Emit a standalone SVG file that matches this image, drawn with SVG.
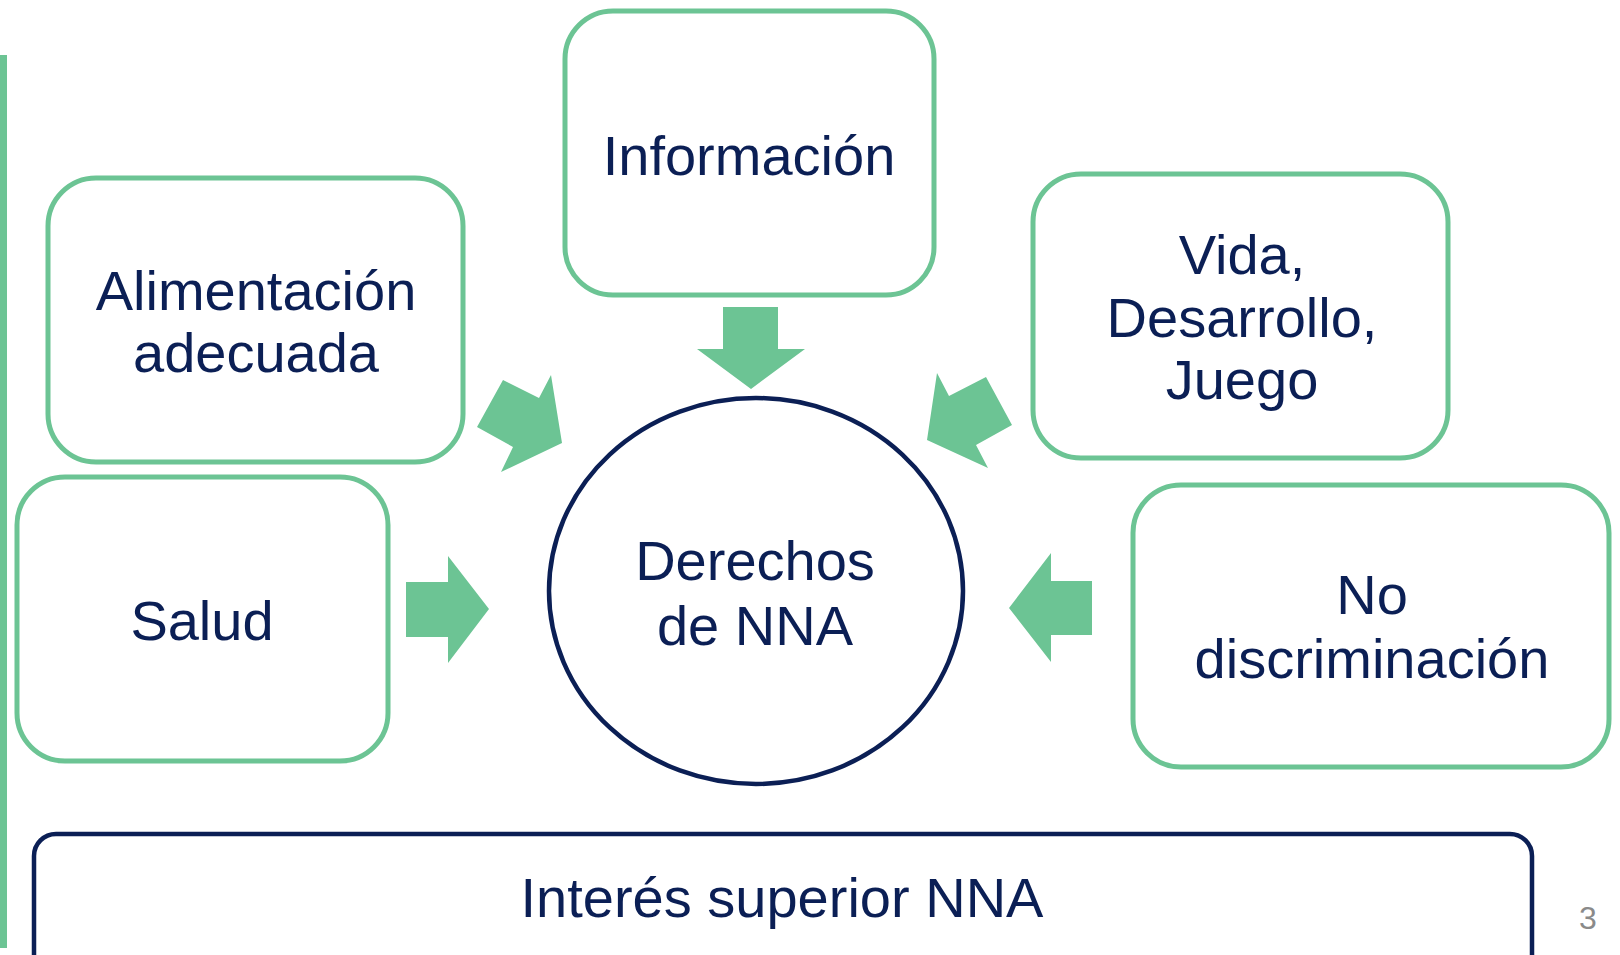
<svg xmlns="http://www.w3.org/2000/svg" width="1620" height="955" viewBox="0 0 1620 955">
<style>
.box{fill:#ffffff;stroke:#6cc494;stroke-width:5}
.arr{fill:#6cc494}
.t{font-family:"Liberation Sans",Arial,sans-serif;font-size:56px;fill:#0b1f55;text-anchor:middle}
.nav{fill:none;stroke:#0b1f55;stroke-width:4.5}
</style>
<rect x="0" y="55" width="7" height="893" fill="#6cc494"/>
<g id="informacion"><rect class="box" x="565" y="11" width="369" height="284" rx="48"/><text class="t" x="749" y="175">Información</text></g>
<g id="alimentacion"><rect class="box" x="48" y="178" width="415" height="284" rx="48"/><text class="t" x="256" y="310">Alimentación</text><text class="t" x="256" y="372">adecuada</text></g>
<g id="salud"><rect class="box" x="17" y="477" width="371" height="284" rx="48"/><text class="t" x="202" y="640">Salud</text></g>
<g id="vida"><rect class="box" x="1033" y="174" width="415" height="284" rx="48"/><text class="t" x="1242" y="274">Vida,</text><text class="t" x="1242" y="337">Desarrollo,</text><text class="t" x="1242" y="399">Juego</text></g>
<g id="nodiscriminacion"><rect class="box" x="1133" y="485" width="476" height="282" rx="48"/><text class="t" x="1372" y="614">No</text><text class="t" x="1372" y="678">discriminación</text></g>
<g id="derechos"><ellipse class="nav" cx="756" cy="591" rx="207" ry="193"/><text class="t" x="755" y="580">Derechos</text><text class="t" x="755" y="645">de NNA</text></g>
<g id="interes"><rect class="nav" x="34" y="834" width="1498" height="160" rx="22"/><text class="t" x="782" y="917">Interés superior NNA</text></g>
<text x="1588" y="929" font-family="'Liberation Sans',Arial,sans-serif" font-size="32" fill="#8a8a8a" text-anchor="middle">3</text>
<g id="connectors">
<polygon class="arr" points="723,307 778,307 778,349 805,349 751,389 697,349 723,349"/>
<polygon class="arr" points="406,582 448,582 448,556 489,609 448,663 448,637 406,637"/>
<polygon class="arr" points="1092,581 1051,581 1051,553 1009,608 1051,662 1051,635 1092,635"/>
<polygon class="arr" points="503,380 539,398 551,375 562,443 501,472 513,447 477,427"/>
<polygon class="arr" points="937,373 949,396 986,377 1012,425 976,445 988,468 927,440"/>
</g>
</svg>
